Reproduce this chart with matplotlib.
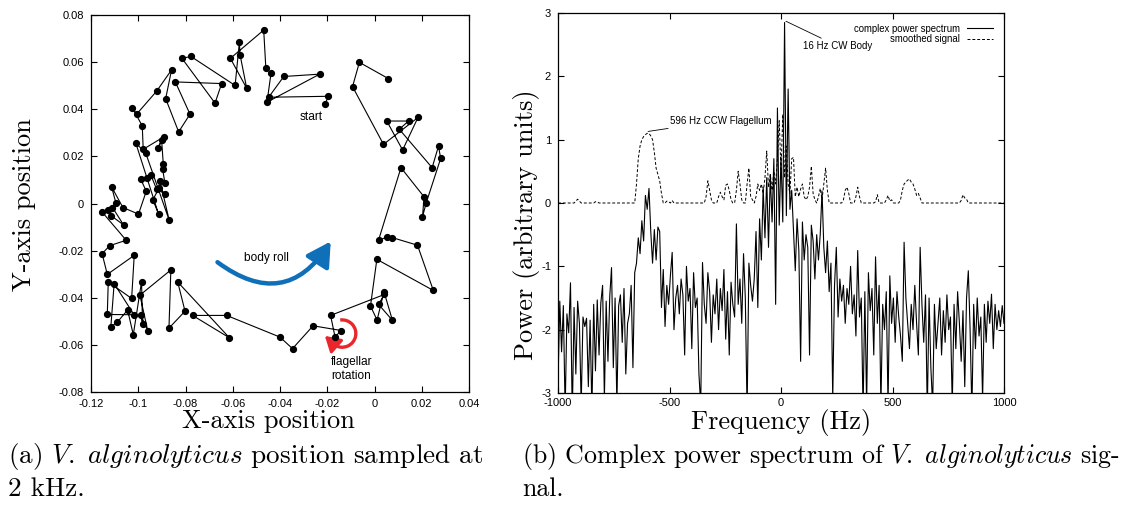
import numpy as np
import matplotlib
matplotlib.use("Agg")
import matplotlib.pyplot as plt
from matplotlib.patches import FancyArrowPatch, Arc

plt.rcParams['mathtext.fontset'] = 'cm'

# ---- panel (a): cell trajectory, in time order ----
traj_x = [-0.0208, -0.0196, -0.0448, -0.0384, -0.0232, -0.0455, -0.0438, -0.0460, -0.0469, -0.0610,
          -0.0541, -0.0569, -0.0572, -0.0590, -0.0777, -0.0815, -0.0675, -0.0647, -0.0843, -0.0781,
          -0.0829, -0.0884, -0.0859, -0.0922, -0.1007, -0.1025, -0.0983, -0.0979, -0.0890, -0.0918,
          -0.0901, -0.0894, -0.0897, -0.0887, -0.0908, -0.0869, -0.0969, -0.1010, -0.0914, -0.0938,
          -0.0911, -0.0887, -0.0922, -0.0946, -0.0963, -0.0989, -0.0966, -0.0999, -0.1065, -0.1113,
          -0.1095, -0.1109, -0.1062, -0.1116, -0.1130, -0.1154, -0.1051, -0.1121, -0.1153, -0.1131,
          -0.1017, -0.1028, -0.1127, -0.1131, -0.1018, -0.1102, -0.1116, -0.1089, -0.1045, -0.1021,
          -0.0986, -0.0982, -0.0990, -0.0960, -0.0993, -0.0862, -0.0870, -0.0802, -0.0833, -0.0614,
          -0.0770, -0.0626, -0.0400, -0.0347, -0.0260, -0.0141, -0.0167, -0.0186, 0.0042, 0.0017,
          0.0076, 0.0040, 0.0011, -0.0017, 0.0010, 0.0249, 0.0182, 0.0076, 0.0055, 0.0017,
          0.0112, 0.0210, 0.0203, 0.0219, 0.0280, 0.0271, 0.0244, 0.0105, 0.0144, 0.0052,
          0.0119, 0.0184, 0.0038, -0.0093, -0.0064, 0.0059]
traj_y = [0.0423, 0.0455, 0.0451, 0.0539, 0.0549, 0.0430, 0.0553, 0.0576, 0.0736, 0.0616,
          0.0489, 0.0631, 0.0684, 0.0501, 0.0624, 0.0616, 0.0426, 0.0509, 0.0516, 0.0379,
          0.0304, 0.0445, 0.0567, 0.0477, 0.0379, 0.0407, 0.0329, 0.0230, 0.0284, 0.0234,
          0.0268, 0.0166, 0.0148, 0.0085, 0.0095, -0.0071, 0.0216, 0.0255, -0.0045, 0.0016,
          0.0067, 0.0041, 0.0060, 0.0119, 0.0109, 0.0102, 0.0052, -0.0045, -0.0017, 0.0071,
          0.0004, -0.0017, -0.0091, -0.0051, -0.0028, -0.0035, -0.0156, -0.0179, -0.0213, -0.0301,
          -0.0220, -0.0403, -0.0333, -0.0471, -0.0472, -0.0340, -0.0523, -0.0504, -0.0452, -0.0557,
          -0.0332, -0.0513, -0.0472, -0.0539, -0.0389, -0.0282, -0.0529, -0.0457, -0.0333, -0.0570,
          -0.0475, -0.0475, -0.0567, -0.0616, -0.0519, -0.0539, -0.0566, -0.0475, -0.0386, -0.0428,
          -0.0496, -0.0374, -0.0495, -0.0435, -0.0237, -0.0369, -0.0177, -0.0145, -0.0142, -0.0156,
          0.0152, 0.0028, -0.0057, 0.0003, 0.0191, 0.0244, 0.0152, 0.0315, 0.0350, 0.0350,
          0.0227, 0.0365, 0.0251, 0.0496, 0.0599, 0.0530]

pos_xticks = [-0.12, -0.1, -0.08, -0.06, -0.04, -0.02, 0, 0.02, 0.04]
pos_xlabels = ["-0.12", "-0.1", "-0.08", "-0.06", "-0.04", "-0.02", "0", "0.02", "0.04"]
pos_yticks = [-0.08, -0.06, -0.04, -0.02, 0, 0.02, 0.04, 0.06, 0.08]
pos_ylabels = ["-0.08", "-0.06", "-0.04", "-0.02", "0", "0.02", "0.04", "0.06", "0.08"]

# ---- panel (b): power spectrum, 8 Hz bins from -1000 to 1000 ----
freq_step = 8
power = [
    -2.85, -1.55, -2.35, -1.62, -3.3, -1.75, -2.05, -1.26, -3.4, -1.65,
    -2.7, -1.55, -1.9, -3.2, -1.8, -1.95, -1.82, -2.9, -1.85, -3.3,
    -1.6, -2.65, -1.53, -2.4, -1.58, -1.3, -3.1, -1.55, -2.5, -1.48,
    -1.02, -2.6, -1.5, -3.2, -1.62, -1.45, -2.2, -1.35, -2.7, -1.9,
    -1.75, -1.3, -2.6, -1.1, -0.95, -0.55, -0.8, -0.28, -0.6, 0.12,
    -0.1, 0.23, -0.45, -0.95, -0.42, -0.9, -0.38, -0.45, -1.65, -1.05,
    -1.95, -1.3, -1.6, -1.15, -0.78, -2.0, -1.5, -1.3, -1.75, -1.2,
    -1.45, -2.4, -1.0, -1.55, -1.35, -2.3, -1.1, -1.65, -1.5, -2.7,
    -3.2, -0.94, -1.6, -1.9, -1.1, -1.4, -2.2, -1.45, -1.75, -1.2,
    -2.0, -1.35, -1.7, -1.05, -2.15, -1.4, -2.4, -1.25, -1.6, -1.8,
    -0.33, -1.6, -1.2, -1.9, -0.8, -1.5, -3.3, -0.95, -1.3, -1.55,
    -1.2, -0.45, -1.65, -0.25, -0.9, 0.25, -0.55, 0.4, -0.7, 0.45,
    -0.3, 0.7, -1.6, 1.5, -0.35, 0.73, -0.3, 2.85, -0.2, 1.8,
    -0.1, 0.2, -0.45, -1.07, -0.25, -0.75, -2.5, -0.3, -0.9, -0.5,
    -0.7, -2.4, -0.35, -0.6, -1.2, -0.5, -0.9, -0.49, 0.19, -0.7,
    -1.1, -0.6, -1.4, -0.95, -3.1, -1.3, -0.7, -1.8, -1.2, -1.55,
    -1.3, -1.9, -1.35, -1.6, -1.0, -1.75, -1.45, -2.1, -0.75, -1.8,
    -1.5, -3.3, -1.4, -3.2, -1.1, -1.7, -1.35, -2.4, -0.85, -1.9,
    -1.3, -3.2, -1.6, -2.0, -1.4, -3.2, -1.15, -1.9, -1.5, -2.2,
    -1.4, -1.8, -2.1, -2.5, -0.62, -1.5, -1.9, -2.3, -1.6, -2.0,
    -1.3, -1.9, -2.4, -0.7, -1.6, -2.2, -1.45, -3.3, -1.5, -2.6,
    -3.2, -1.6, -2.3, -1.9, -1.5, -2.4, -1.7, -2.2, -1.45, -2.0,
    -1.8, -3.2, -1.6, -2.3, -1.4, -1.9, -2.5, -1.7, -2.9, -1.5,
    -1.07, -2.0, -3.3, -1.6, -2.3, -1.5, -2.1, -1.8, -3.1, -1.6,
    -2.2, -1.55, -1.9, -1.44, -2.3, -1.6, -2.0, -1.7, -1.95, -1.62,
    -1.9]
freqs = -1000 + freq_step * np.arange(len(power))

smooth_freq = [-1000, -928, -920, -912, -904, -896, -840, -832, -824, -816,
               -656, -648, -640, -632, -624, -616, -608, -600, -592, -584,
               -576, -568, -560, -552, -544, -536, -528, -520, -512, -504,
               -496, -488, -480, -344, -336, -328, -320, -312, -304, -288,
               -280, -272, -264, -256, -248, -240, -232, -224, -216, -208,
               -200, -192, -184, -176, -168, -160, -152, -144, -136, -128,
               -120, -112, -104, -96, -88, -80, -72, -64, -56, -48,
               -40, -32, -24, -16, -8, 0, 8, 16, 24, 32,
               40, 48, 56, 64, 72, 80, 88, 96, 104, 112,
               120, 128, 136, 144, 152, 160, 168, 176, 184, 192,
               200, 208, 216, 272, 280, 288, 296, 304, 312, 328,
               336, 344, 352, 360, 416, 424, 432, 440, 464, 472,
               480, 488, 496, 504, 528, 536, 544, 552, 560, 568,
               576, 584, 592, 600, 608, 616, 624, 632, 800, 808,
               816, 824, 832, 840, 1000]
smooth_power = [0, 0, 0.03, 0.06, 0.03, 0, 0, 0.02, 0.02, 0,
                0, 0.3, 0.7, 0.9, 1.0, 1.05, 1.08, 1.1, 1.1, 1.06,
                1.0, 0.8, 0.55, 0.45, 0.35, 0.15, 0, 0, 0.03, 0.02,
                0, 0.04, 0, 0, 0.1, 0.35, 0.2, 0.05, 0, 0,
                0.1, 0.17, 0.1, 0.05, 0.28, 0.3, 0.2, 0.05, 0, 0,
                0.2, 0.5, 0.3, 0.05, 0, 0, 0.3, 0.55, 0.1, 0.05,
                0, 0.1, 0.3, 0.2, 0.3, 0.15, 0.4, 0.82, 0.25, 0.45,
                0.2, 0.5, 0.3, 0.7, 1.3, 0.5, 1.4, 0.4, 0.9, 0.3,
                0.15, 0.7, 0.72, 0.1, 0.25, 0.1, 0.22, 0.3, 0.1, 0.05,
                0.1, 0.25, 0.58, 0.15, 0.05, 0, 0.1, 0.23, 0.05, 0.3,
                0.55, 0.2, 0, 0, 0.05, 0.2, 0.25, 0.15, 0, 0,
                0.1, 0.25, 0.1, 0, 0, 0.02, 0.13, 0, 0, 0.05,
                0.12, 0.03, 0.05, 0, 0, 0.05, 0.2, 0.3, 0.33, 0.36,
                0.38, 0.33, 0.3, 0.22, 0.12, 0.15, 0.08, 0, 0, 0.04,
                0.13, 0.08, 0.06, 0, 0]

spec_xticks = [-1000, -500, 0, 500, 1000]
spec_yticks = [-3, -2, -1, 0, 1, 2, 3]

tick_font = dict(family='Liberation Sans', size=8)
note_font = dict(family='Liberation Sans', size=8.6)
small_font = dict(family='Liberation Sans', size=7)
label_font = dict(family='cmr10', size=19)

fig = plt.figure(figsize=(11.42, 5.07), dpi=100)

# ---------------- panel (a) ----------------
ax1 = fig.add_axes([91 / 1142, 1 - 392 / 507, 378 / 1142, 377 / 507])
ax1.plot(traj_x, traj_y, '-o', color='black', lw=0.8, ms=4.2)
ax1.set_xlim(-0.12, 0.04)
ax1.set_ylim(-0.08, 0.08)
ax1.set_xticks(pos_xticks)
ax1.set_xticklabels(pos_xlabels, **tick_font)
ax1.set_yticks(pos_yticks)
ax1.set_yticklabels(pos_ylabels, **tick_font)

ax1.text(-0.0268, 0.0366, "start", ha='center', va='center', **note_font)
ax1.text(-0.0459, -0.0231, "body roll", ha='center', va='center', **note_font)
ax1.text(-0.0183, -0.0702, "flagellar\nrotation", ha='left', va='center',
         linespacing=1.25, **note_font)

blue = FancyArrowPatch((-0.0674, -0.0242), (-0.0179, -0.0151),
                       connectionstyle="arc3,rad=0.55",
                       arrowstyle="-|>,head_length=0.8,head_width=0.45",
                       mutation_scale=18, lw=3.2, color='#0f6fb8')
ax1.add_patch(blue)

# red circular arrow for the flagellar rotation
red_c = '#e8262b'
ax1.add_patch(Arc((-0.0137, -0.0552), 0.0116, 0.0116, theta1=-122, theta2=98,
                  lw=2.4, color=red_c))
ax1.add_patch(FancyArrowPatch((-0.0166, -0.0601), (-0.0210, -0.0562),
                              arrowstyle="-|>,head_length=0.9,head_width=0.55",
                              mutation_scale=10, lw=2.2, color=red_c,
                              shrinkA=0, shrinkB=0))

# ---------------- panel (b) ----------------
ax2 = fig.add_axes([558 / 1142, 1 - 393 / 507, 446 / 1142, 380 / 507])
ax2.plot(freqs, power, '-', color='black', lw=0.8, label='complex power spectrum')
ax2.plot(smooth_freq, smooth_power, '--', color='black', lw=0.7, dashes=(3, 2),
         label='smoothed signal')
ax2.set_xlim(-1000, 1000)
ax2.set_ylim(-3, 3)
ax2.set_xticks(spec_xticks)
ax2.set_xticklabels([str(t) for t in spec_xticks], **tick_font)
ax2.set_yticks(spec_yticks)
ax2.set_yticklabels([str(t) for t in spec_yticks], **tick_font)

ax2.annotate("596 Hz CCW Flagellum", xy=(-596, 1.13), xytext=(-500, 1.3),
             ha='left', va='center', **small_font,
             arrowprops=dict(arrowstyle='-', lw=0.6, color='black', shrinkA=0, shrinkB=0))
ax2.annotate("16 Hz CW Body", xy=(22, 2.87), xytext=(98, 2.48),
             ha='left', va='center', **small_font,
             arrowprops=dict(arrowstyle='-', lw=0.6, color='black', shrinkA=0, shrinkB=0))
ax2.legend(loc='upper right', frameon=False, markerfirst=False,
           prop=dict(family='Liberation Sans', size=6.9),
           handlelength=2.8, handletextpad=0.7, labelspacing=0.1, borderaxespad=0.7)

for ax in (ax1, ax2):
    ax.tick_params(direction='in', top=True, right=True, length=4, width=0.8, pad=5)
    for s in ax.spines.values():
        s.set_linewidth(0.9)
ax2.tick_params(axis='x', pad=3.5)

# axis labels
fig.text(268 / 1142, 1 - 421 / 507, "X-axis position", ha='center', va='center', **label_font)
fig.text(24 / 1142, 1 - 205 / 507, "Y-axis position", ha='center', va='center', rotation=90, **label_font)
fig.text(781 / 1142, 1 - 423 / 507, "Frequency (Hz)", ha='center', va='center', **label_font)
fig.text(526 / 1142, 1 - 225 / 507, "Power (arbitrary units)", ha='center', va='center', rotation=90,
         **label_font)

# captions
cap_a = dict(family='cmr10', size=19.5)
cap_b = dict(family='cmr10', size=18.6)
fig.text(8 / 1142, 1 - 456 / 507, r"(a) $\mathit{V.\ alginolyticus}$ position sampled at",
         ha='left', va='center', **cap_a)
fig.text(8 / 1142, 1 - 489 / 507, "2 kHz.", ha='left', va='center', **cap_a)
fig.text(522 / 1142, 1 - 456 / 507, r"(b) Complex power spectrum of $\mathit{V.\ alginolyticus}$ sig-",
         ha='left', va='center', **cap_b)
fig.text(522 / 1142, 1 - 489 / 507, "nal.", ha='left', va='center', **cap_b)

fig.savefig("out.png", dpi=100)
